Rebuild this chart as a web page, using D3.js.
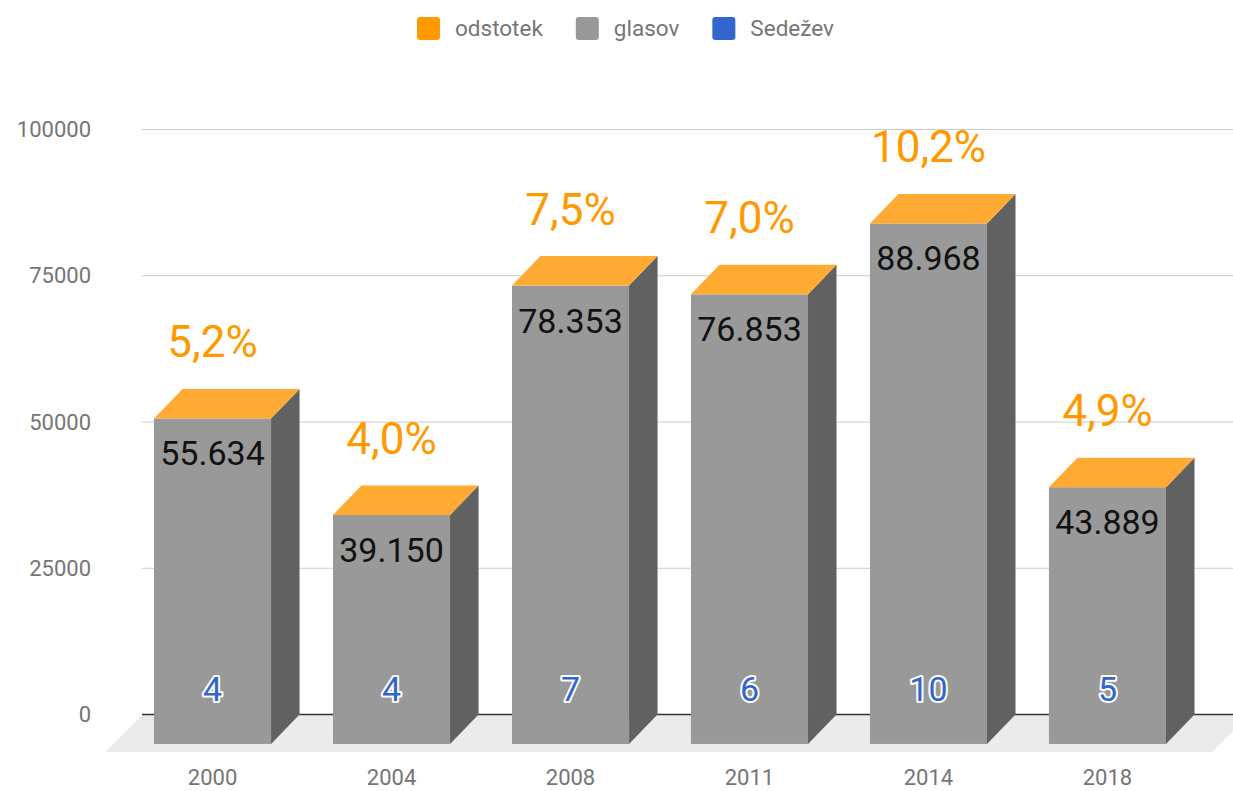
<!DOCTYPE html>
<html><head><meta charset="utf-8">
<script src="https://cdn.jsdelivr.net/npm/d3@7"></script>
<style>body{margin:0;background:#fff;}svg{display:block;font-family:Roboto,"Noto Sans",sans-serif;}</style>
</head><body>
<svg id="c" width="1233" height="791"></svg>
<script>
const years = ["2000","2004","2008","2011","2014","2018"];
const sedezev = [4,4,7,6,10,5];
const glasov = [55634,39150,78353,76853,88968,43889];
const odstotek = [5.2,4.0,7.5,7.0,10.2,4.9];
const yTicks = [0,25000,50000,75000,100000];
const seriesNames = ["odstotek","glasov","Sedežev"];
const seriesColors = ["#ff9900","#999999","#3366cc"];

const W=1233,H=791;
const svg=d3.select("#c");
const DX=28.5, DY=-29.5; // depth offset back vs front
const y=d3.scaleLinear().domain([0,100000]).range([714.5,129.5]);
const x=d3.scaleBand().domain(years).range([154,1166]).paddingInner(0.346).paddingOuter(0);
const loc=d3.formatLocale({decimal:",",thousands:".",grouping:[3],currency:["","€"]});
const fmtV=loc.format(",d"), fmtP=loc.format(".1f");

// floor
const y0=y(0);
svg.append("path").attr("d",`M143,${y0} L1250,${y0} L1212,${y0+37.5} L105,${y0+37.5} Z`).attr("fill","#ebebeb");
// gridlines
svg.append("g").selectAll("line").data(yTicks.filter(d=>d>0)).join("line")
  .attr("x1",142).attr("x2",W).attr("y1",d=>y(d)).attr("y2",d=>y(d)).attr("stroke","#cccccc").attr("stroke-width",1);
svg.append("line").attr("x1",142).attr("x2",W).attr("y1",y0).attr("y2",y0).attr("stroke","#333333").attr("stroke-width",1.3);
// y axis labels
const yAxis=d3.axisLeft(y).tickValues(yTicks).tickSize(0).tickPadding(0).tickFormat(d3.format("d"));
const ga=svg.append("g").attr("transform","translate(91,0)").call(yAxis);
ga.select(".domain").remove();
ga.selectAll("text").attr("font-size",22).attr("fill","#757575").attr("font-family","Roboto");
// x axis labels
const xa=svg.append("g").attr("transform",`translate(0,${y0+55})`).call(d3.axisBottom(x).tickSize(0).tickPadding(0));
xa.select(".domain").remove();
xa.selectAll("text").attr("font-size",22).attr("fill","#757575").attr("font-family","Roboto").attr("dy","0.71em");

// bars
const front={ "Sedežev":"#3366cc","glasov":"#999999","odstotek":"#ff9900"};
const side={ "Sedežev":"#1f3d7a","glasov":"#616161","odstotek":"#b36b00"};
const topc={ "Sedežev":"#5c85d6","glasov":"#b8b8b8","odstotek":"#ffab33"};
const bw=x.bandwidth();
years.forEach((yr,i)=>{
  const segs=[["Sedežev",0,sedezev[i]],["glasov",sedezev[i],sedezev[i]+glasov[i]],["odstotek",sedezev[i]+glasov[i],sedezev[i]+glasov[i]+odstotek[i]]];
  const g=svg.append("g");
  const xl=x(yr), xr=xl+bw;
  segs.forEach(([name,a,b])=>{
    const fb=y(a)-DY, ft=y(b)-DY;
    g.append("rect").attr("x",xl).attr("y",ft).attr("width",bw).attr("height",Math.max(0,fb-ft)).attr("fill",front[name]);
    g.append("path").attr("d",`M${xr},${ft} L${xr+DX},${ft+DY} L${xr+DX},${fb+DY} L${xr},${fb} Z`).attr("fill",side[name]);
  });
  const tot=segs[2][2];
  const ft=y(tot)-DY;
  g.append("path").attr("d",`M${xl},${ft} L${xr},${ft} L${xr+DX},${ft+DY} L${xl+DX},${ft+DY} Z`).attr("fill",topc["odstotek"]);
  const cx=xl+bw/2;
  g.append("text").attr("x",cx).attr("y",ft+47).attr("text-anchor","middle").attr("font-size",34).attr("fill","#111").text(fmtV(glasov[i]));
  g.append("text").attr("x",cx).attr("y",ft-61).attr("text-anchor","middle").attr("font-size",44).attr("fill","#ff9900").text(fmtP(odstotek[i])+"%");
  g.append("text").attr("x",cx).attr("y",y(0)-DY-43).attr("text-anchor","middle").attr("font-size",34)
    .attr("fill","#3366cc").attr("stroke","#fff").attr("stroke-width",4).attr("paint-order","stroke").attr("stroke-linejoin","round").text(sedezev[i]);
});

// legend
const lg=svg.append("g");
let lx=417;
seriesNames.forEach((n,i)=>{
  lg.append("rect").attr("x",lx).attr("y",17).attr("width",23).attr("height",23).attr("rx",3).attr("fill",seriesColors[i]);
  const t=lg.append("text").attr("x",lx+38).attr("y",36).attr("font-size",22.5).attr("fill","#757575").text(n);
  lx+=38+t.node().getComputedTextLength()+33;
});
</script>
</body></html>
